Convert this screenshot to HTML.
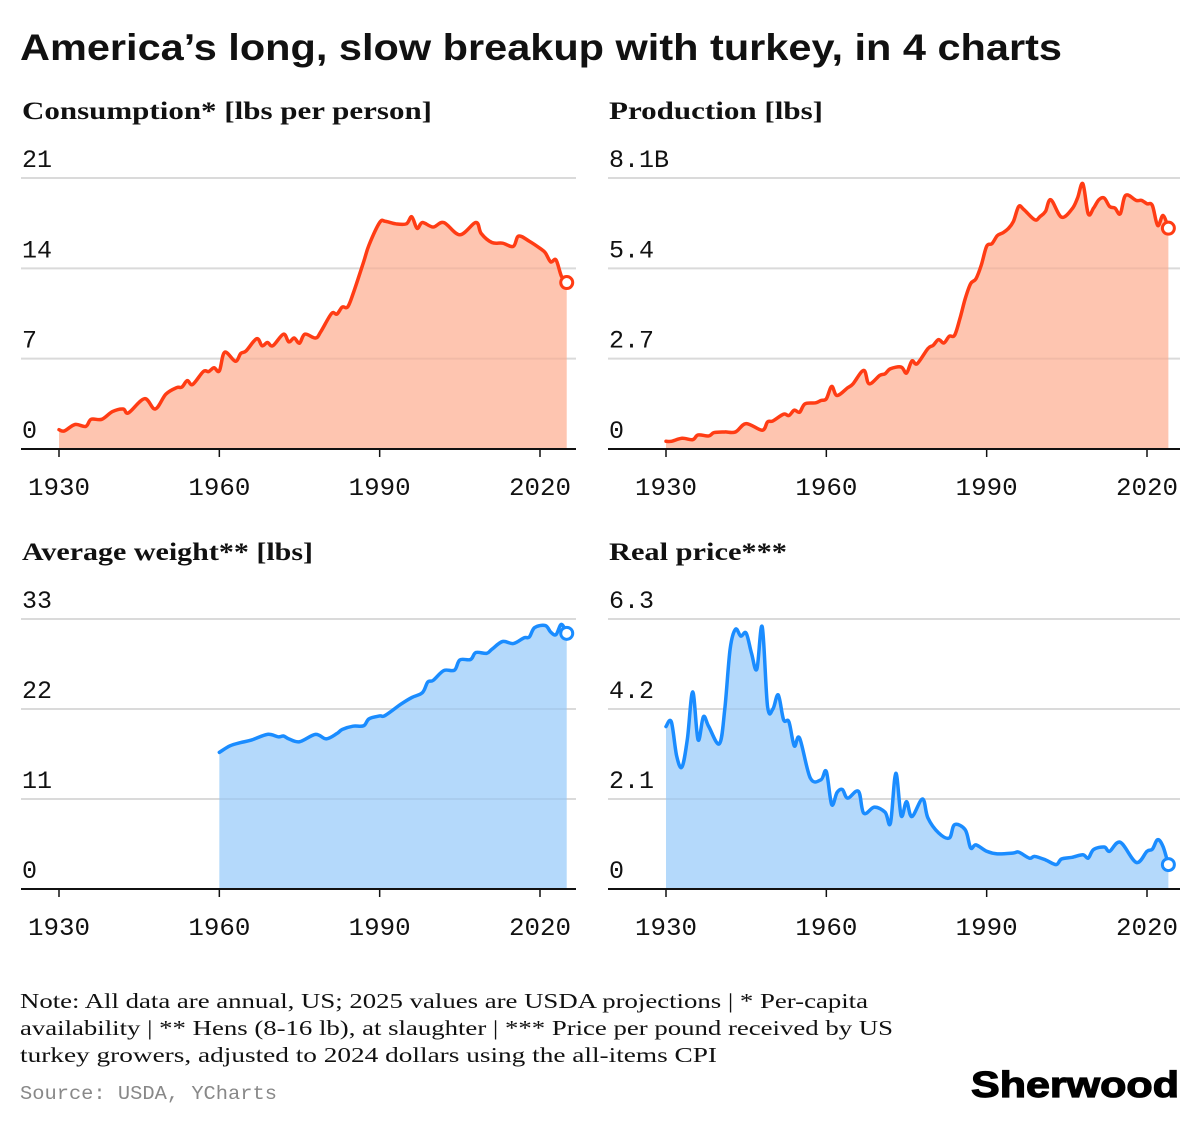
<!DOCTYPE html>
<html><head><meta charset="utf-8">
<style>
html,body{margin:0;padding:0;background:#fff;}
svg{display:block;}
.title{font-family:"Liberation Sans",sans-serif;font-weight:bold;font-size:37px;fill:#111;}
.sub{font-family:"Liberation Serif",serif;font-weight:bold;font-size:25px;fill:#111;}
.tick{font-family:"Liberation Mono",monospace;font-size:25px;fill:#111;}
.note{font-family:"Liberation Serif",serif;font-size:21px;fill:#111;}
.src{font-family:"Liberation Mono",monospace;font-size:19px;fill:#888;}
.logo{font-family:"Liberation Sans",sans-serif;font-weight:bold;font-size:36px;fill:#000;}
</style></head>
<body>
<svg id="root" width="1199" height="1126" viewBox="0 0 1199 1126" xmlns="http://www.w3.org/2000/svg">
<text class="title" x="20" y="60" textLength="1042" lengthAdjust="spacingAndGlyphs">America’s long, slow breakup with turkey, in 4 charts</text>
<text class="sub" x="22" y="119" textLength="410" lengthAdjust="spacingAndGlyphs">Consumption* [lbs per person]</text>
<text class="sub" x="609" y="119" textLength="214" lengthAdjust="spacingAndGlyphs">Production [lbs]</text>
<text class="sub" x="22" y="560" textLength="291" lengthAdjust="spacingAndGlyphs">Average weight** [lbs]</text>
<text class="sub" x="609" y="560" textLength="178" lengthAdjust="spacingAndGlyphs">Real price***</text>
<g id="charts"></g>
<text class="note" x="20" y="1008" textLength="848" lengthAdjust="spacingAndGlyphs">Note: All data are annual, US; 2025 values are USDA projections | * Per-capita</text>
<text class="note" x="20" y="1035" textLength="873" lengthAdjust="spacingAndGlyphs">availability | ** Hens (8-16 lb), at slaughter | *** Price per pound received by US</text>
<text class="note" x="20" y="1062" textLength="697" lengthAdjust="spacingAndGlyphs">turkey growers, adjusted to 2024 dollars using the all-items CPI</text>
<text class="src" x="20" y="1099" textLength="257" lengthAdjust="spacingAndGlyphs">Source: USDA, YCharts</text>
<text class="logo" x="971" y="1097" textLength="208" lengthAdjust="spacingAndGlyphs" stroke="#000" stroke-width="1.2">Sherwood</text>
</svg>
<script>
// ---- data ----
const consYears = [1930,1931,1933,1935,1936,1938,1940,1942,1943,1946,1948,1950,1952,1953,1954,1955,1957,1958,1959,1960,1961,1963,1964,1965,1967,1968,1969,1970,1972,1973,1974,1975,1976,1978,1979,1981,1982,1983,1984,1985,1987,1988,1990,1991,1993,1995,1996,1997,1998,2000,2002,2005,2008,2009,2011,2013,2015,2016,2018,2020,2021,2022,2023,2024,2025];
const consValues = [1.5,1.4,1.9,1.75,2.3,2.3,2.9,3.1,2.8,3.9,3.1,4.25,4.75,4.8,5.3,5.0,6.0,6.0,6.3,6.05,7.5,6.8,7.4,7.6,8.55,8.0,8.25,8.0,8.9,8.3,8.6,8.2,8.9,8.6,9.1,10.5,10.45,11.0,11.0,12.0,14.5,15.8,17.55,17.65,17.45,17.45,18.0,17.1,17.55,17.2,17.55,16.6,17.55,16.7,16.0,15.95,15.7,16.5,16.1,15.55,15.2,14.5,14.65,13.4,12.9];
const consTicks = ["0","7","14","21"];

const prodYears = [1930,1931,1933,1935,1936,1938,1939,1941,1943,1945,1948,1949,1950,1952,1953,1954,1955,1956,1958,1959,1960,1961,1962,1964,1965,1967,1968,1970,1971,1972,1974,1975,1976,1977,1979,1980,1981,1982,1983,1984,1985,1986,1987,1988,1989,1990,1991,1992,1993,1994,1995,1996,1997,1999,2000,2001,2002,2004,2006,2007,2008,2009,2010,2011,2012,2013,2014,2015,2016,2018,2019,2020,2021,2022,2023,2024];
const prodValues = [0.23,0.23,0.32,0.28,0.42,0.39,0.49,0.51,0.51,0.76,0.56,0.81,0.84,1.04,1.0,1.16,1.1,1.35,1.38,1.45,1.5,1.87,1.6,1.83,1.95,2.35,1.95,2.2,2.25,2.4,2.45,2.27,2.63,2.55,3.0,3.1,3.27,3.17,3.37,3.4,3.9,4.5,4.94,5.09,5.5,6.06,6.14,6.38,6.46,6.58,6.8,7.25,7.15,6.85,6.95,7.1,7.45,6.93,7.18,7.5,7.93,7.03,7.2,7.45,7.5,7.25,7.2,7.03,7.58,7.43,7.43,7.33,7.28,6.68,6.98,6.6];
const prodTicks = ["0","2.7","5.4","8.1B"];

const weightYears = [1960,1962,1964,1966,1969,1971,1972,1973,1975,1978,1980,1982,1983,1985,1987,1988,1990,1991,1994,1996,1998,1999,2000,2002,2004,2005,2007,2008,2010,2011,2013,2015,2017,2018,2019,2021,2022,2023,2024,2025];
const weightValues = [16.7,17.5,17.9,18.2,18.9,18.6,18.7,18.35,18.0,18.9,18.35,19.0,19.5,19.9,19.95,20.8,21.15,21.2,22.6,23.4,24.0,25.3,25.5,26.7,26.75,28.0,28.05,28.9,28.8,29.3,30.25,30.0,30.7,30.8,31.95,32.2,31.4,31.1,32.35,31.25];
const weightTicks = ["0","11","22","33"];

const priceYears = [1930,1931,1932,1933,1934,1935,1936,1937,1938,1940,1941,1942,1943,1944,1945,1946,1947,1948,1949,1950,1951,1952,1953,1954,1955,1957,1959,1960,1961,1962,1963,1964,1966,1967,1969,1971,1972,1973,1974,1975,1976,1978,1979,1981,1983,1984,1986,1987,1988,1990,1992,1995,1996,1998,1999,2001,2003,2004,2006,2008,2009,2010,2012,2013,2015,2018,2020,2021,2022,2023,2024];
const priceValues = [3.79,3.9,3.1,2.85,3.5,4.6,3.48,4.02,3.79,3.39,4.2,5.6,6.06,5.9,5.97,5.5,5.13,6.12,4.26,4.2,4.53,3.95,3.9,3.34,3.52,2.59,2.55,2.74,1.97,2.25,2.32,2.12,2.28,1.77,1.91,1.79,1.54,2.70,1.71,2.04,1.69,2.10,1.66,1.31,1.19,1.50,1.38,0.96,1.03,0.88,0.82,0.84,0.86,0.72,0.76,0.68,0.57,0.70,0.74,0.80,0.72,0.92,0.98,0.88,1.09,0.62,0.88,0.93,1.15,0.99,0.57];
const priceTicks = ["0","2.1","4.2","6.3"];

const xTickYears = [1930,1960,1990,2020];

const NS = "http://www.w3.org/2000/svg";
const root = document.getElementById("charts");
function mk(tag, attrs, parent){
  const e = document.createElementNS(NS, tag);
  for (const k in attrs) e.setAttribute(k, attrs[k]);
  parent.appendChild(e);
  return e;
}
function smoothPath(pts){
  let d = "M" + pts[0][0].toFixed(2) + "," + pts[0][1].toFixed(2);
  for (let i = 0; i < pts.length - 1; i++){
    const p0 = pts[i-1] || pts[i], p1 = pts[i], p2 = pts[i+1], p3 = pts[i+2] || p2;
    const t = 0.17;
    const c1 = [p1[0] + (p2[0]-p0[0])*t, p1[1] + (p2[1]-p0[1])*t];
    const c2 = [p2[0] - (p3[0]-p1[0])*t, p2[1] - (p3[1]-p1[1])*t];
    d += "C" + c1[0].toFixed(2) + "," + c1[1].toFixed(2) + " " + c2[0].toFixed(2) + "," + c2[1].toFixed(2) + " " + p2[0].toFixed(2) + "," + p2[1].toFixed(2);
  }
  return d;
}
function drawChart(cfg, years, values, ticks, key){
  const g = mk("g", {}, root);
  
  
  const pxPerYear = (cfg.x2020 - cfg.x1930) / 90;
  const xs = y => cfg.x1930 + (y - 1930) * pxPerYear;
  const maxV = parseFloat(ticks[ticks.length-1]);
  const ys = v => cfg.base - (v / maxV) * (cfg.base - cfg.top);
  ticks.forEach((t, i) => {
    const v = maxV * i / (ticks.length - 1);
    const gy = ys(v);
    if (i > 0){
      const gl = mk("line", {x1: cfg.left, x2: cfg.right, y1: gy, y2: gy, stroke: "#e6e6e6", "stroke-width": 2}, g);
      
      
    }
    const tl = mk("text", {x: cfg.left + 1, y: gy - 11, class: "tick"}, g);
    tl.textContent = t;
    
    
  });
  const pts = years.map((yr, i) => [xs(yr), ys(values[i])]);
  const line = smoothPath(pts);
  const area = mk("path", {d: line + "L" + pts[pts.length-1][0].toFixed(2) + "," + cfg.base + "L" + pts[0][0].toFixed(2) + "," + cfg.base + "Z", fill: cfg.fill, stroke: "none"}, g);
  
  
  ticks.forEach((t, i) => {
    if (i === 0) return;
    const gy = ys(maxV * i / (ticks.length - 1));
    mk("line", {x1: cfg.left, x2: cfg.right, y1: gy, y2: gy, stroke: "#000", "stroke-opacity": 0.05, "stroke-width": 2}, g);
  });
  const ax = mk("line", {x1: cfg.left, x2: cfg.right, y1: cfg.base, y2: cfg.base, stroke: "#111", "stroke-width": 2}, g);
  
  
  xTickYears.forEach(yr => {
    const tx = xs(yr);
    mk("line", {x1: tx, x2: tx, y1: cfg.base, y2: cfg.base + 8, stroke: "#111", "stroke-width": 1.5}, g);
    const lb = mk("text", {x: tx, y: cfg.base + 46, class: "tick", "text-anchor": "middle", textLength: 62, lengthAdjust: "spacingAndGlyphs"}, g);
    lb.textContent = String(yr);
    
    
  });
  const ln = mk("path", {d: line, fill: "none", stroke: cfg.stroke, "stroke-width": 3.5, "stroke-linejoin": "round", "stroke-linecap": "round"}, g);
  
  
  const last = pts[pts.length-1];
  const dot = mk("circle", {cx: last[0], cy: last[1], r: 6, fill: "#fff", stroke: cfg.stroke, "stroke-width": 3}, g);
  
  
}
const orange = {stroke: "#ff3c14", fill: "#fec5b0"};
const blue = {stroke: "#1a8cff", fill: "#b4d9fb"};
drawChart(Object.assign({x1930: 59, x2020: 540, base: 449, top: 178, left: 21, right: 576}, orange), consYears, consValues, consTicks, "consumption");
drawChart(Object.assign({x1930: 666, x2020: 1147, base: 449, top: 178, left: 608, right: 1180}, orange), prodYears, prodValues, prodTicks, "production");
drawChart(Object.assign({x1930: 59, x2020: 540, base: 889, top: 619, left: 21, right: 576}, blue), weightYears, weightValues, weightTicks, "weight");
drawChart(Object.assign({x1930: 666, x2020: 1147, base: 889, top: 619, left: 608, right: 1180}, blue), priceYears, priceValues, priceTicks, "price");
</script>
</body></html>
